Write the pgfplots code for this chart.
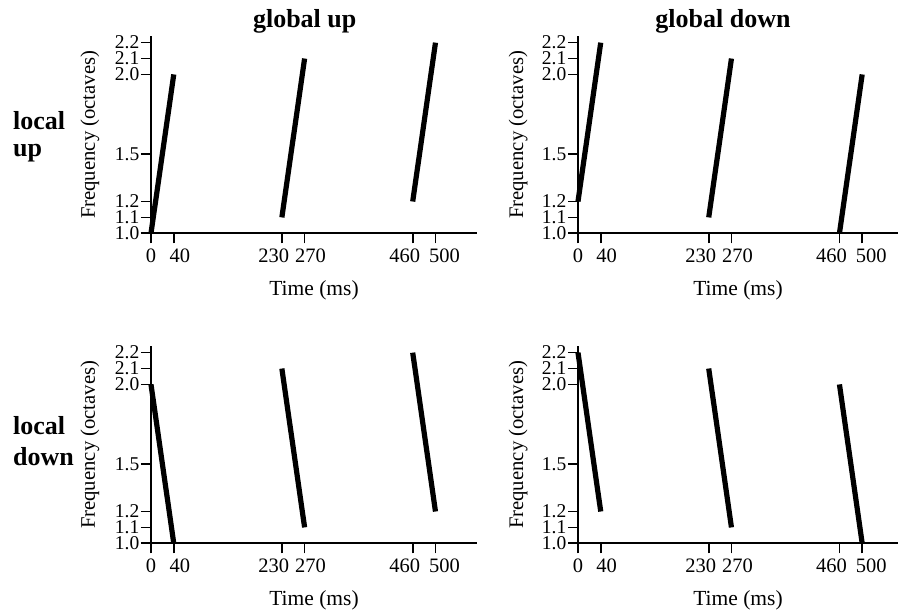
\documentclass[border=0pt]{standalone}
\usepackage{pgfplots}
\pgfplotsset{compat=1.18}
\usepackage{fontspec}
\setmainfont{Liberation Serif}

\pgfplotsset{
  tone/.style={
    scale only axis,
    width=326pt, height=197pt,
    xmin=0, xmax=573, ymin=1.0, ymax=2.24,
    axis x line*=bottom, axis y line*=left,
    axis line style={line width=1.8pt, -},
    tick align=outside, major tick length=10pt,
    every tick/.style={line width=1.6pt, black},
    xtick={0,40,230,270,460,500},
    % labels of the close tick pairs are pushed apart, as in the original
    xticklabels={0, \hspace*{12pt}40, 230\hspace*{16pt}, \hspace*{12pt}270,
                 460\hspace*{16pt}, \hspace*{18pt}500},
    ytick={1.0,1.1,1.2,1.5,2.0,2.1,2.2},
    yticklabel style={/pgf/number format/fixed, /pgf/number format/fixed zerofill,
                      /pgf/number format/precision=1, inner sep=0pt, xshift=-1.5pt,
                      font=\fontsize{19.5}{20}\selectfont},
    xticklabel style={inner sep=0pt, yshift=-5pt, font=\fontsize{20.5}{22}\selectfont},
    /pgf/number format/assume math mode=true,
    xlabel style={font=\fontsize{21.5}{24}\selectfont},
    ylabel style={font=\fontsize{20.7}{24}\selectfont},
    xlabel={Time (ms)}, ylabel={Frequency (octaves)},
    xlabel style={at={(axis description cs:0.5,-0.29)}, anchor=center},
    ylabel style={at={(axis description cs:-0.187,0.5)}, anchor=center},
    clip=false,
  },
  glide/.style={black, line width=5.2pt, line cap=butt, no markers},
}

\begin{document}
\begin{tikzpicture}
\useasboundingbox (0pt,0pt) rectangle (898pt,613pt);

% top left: local up, global up
\begin{axis}[tone, at={(151pt,379.7pt)}, anchor=south west]
\addplot[glide] coordinates {(0,1.0) (40,2.0)};
\addplot[glide] coordinates {(230,1.1) (270,2.1)};
\addplot[glide] coordinates {(460,1.2) (500,2.2)};
\end{axis}

% top right: local up, global down
\begin{axis}[tone, width=320pt, xmax=563, at={(578pt,379.7pt)}, anchor=south west]
\addplot[glide] coordinates {(0,1.2) (40,2.2)};
\addplot[glide] coordinates {(230,1.1) (270,2.1)};
\addplot[glide] coordinates {(460,1.0) (500,2.0)};
\end{axis}

% bottom left: local down, global up
\begin{axis}[tone, at={(151pt,69.7pt)}, anchor=south west]
\addplot[glide] coordinates {(0,2.0) (40,1.0)};
\addplot[glide] coordinates {(230,2.1) (270,1.1)};
\addplot[glide] coordinates {(460,2.2) (500,1.2)};
\end{axis}

% bottom right: local down, global down
\begin{axis}[tone, width=320pt, xmax=563, at={(578pt,69.7pt)}, anchor=south west]
\addplot[glide] coordinates {(0,2.2) (40,1.2)};
\addplot[glide] coordinates {(230,2.1) (270,1.1)};
\addplot[glide] coordinates {(460,2.0) (500,1.0)};
\end{axis}

\begin{scope}[every node/.style={font=\fontsize{26}{28}\selectfont\bfseries, inner sep=0pt}]
\node[anchor=base] at (304.7pt,585pt) {global up};
\node[anchor=base] at (723pt,585pt) {global down};
\node[anchor=base west] at (13pt,483pt) {local};
\node[anchor=base west] at (13pt,456pt) {up};
\node[anchor=base west] at (13pt,178pt) {local};
\node[anchor=base west] at (13pt,147pt) {down};
\end{scope}
\end{tikzpicture}
\end{document}
